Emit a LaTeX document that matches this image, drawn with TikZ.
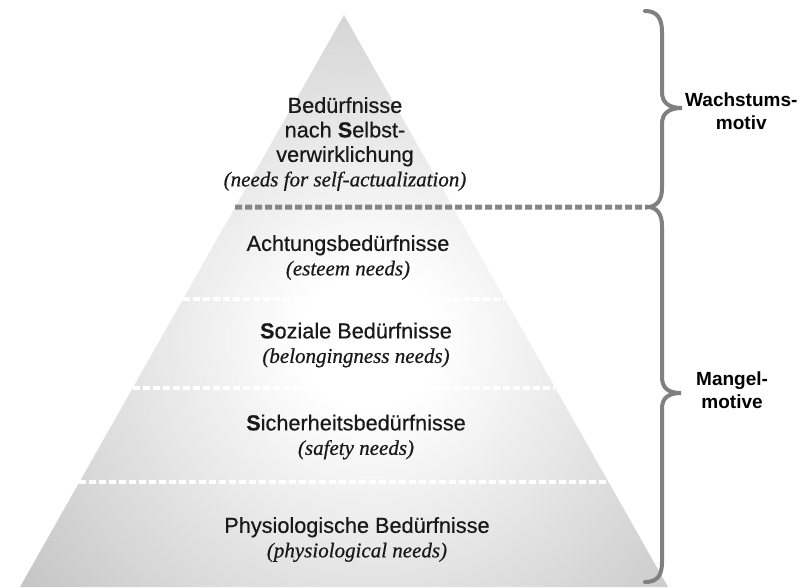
\documentclass[tikz,border=0pt]{standalone}
\usepackage{fontspec}
\setmainfont{Liberation Sans}
\newfontfamily\levelfont{Liberation Sans}[FakeBold=0.5]
\newfontfamily\engfont{Liberation Serif}[FakeBold=0.6]
\usetikzlibrary{positioning, calc}
\pgfdeclareradialshading{pyrglow}{\pgfpoint{0bp}{0bp}}{color(0bp)=(white); color(4bp)=(white); color(29bp)=(gray!53); color(50bp)=(gray!53)}
\newcommand{\eng}[1]{{\engfont\itshape\fontsize{21}{24.5}\selectfont #1}}
\tikzset{
    %Define style for the level texts
    level/.style={
           align=center,
           inner sep=0pt,
           text=black!90,
           font=\levelfont\fontsize{21.7}{24.5}\selectfont},
 %
    motive/.style={
           align=center,
           inner sep=0pt,
           font=\fontsize{19}{23}\selectfont\bfseries},
 %
    % Define separator styles
    border/.style={
           white,
           line width=4.5pt,
           dash pattern=on 7pt off 3pt},
    mainborder/.style={
           black!47,
           line width=5pt,
           dash pattern=on 7pt off 3pt},
 %
    brace/.style={
           black!50,
           line width=4pt,
           line cap=round}
}
\begin{document}
\begin{tikzpicture}[x=1pt, y=-1pt]
  \useasboundingbox (0,0) rectangle (806,587);
  \coordinate (apex) at (344,15);
  \coordinate (bl) at (20,587);
  \coordinate (br) at (668,587);
  \begin{scope}
    \clip (apex) -- (bl) -- (br) -- cycle;
    \shade[shading=pyrglow] (-50,-80) rectangle (790,760);
  \end{scope}
  % brace points
  \coordinate (wtop) at (645,11);
  \coordinate (wtip) at (682,108);
  \coordinate (junction) at (647,207);
  \coordinate (mtip) at (681,393);
  \coordinate (mbot) at (645,582);
  % separators
  \draw[mainborder] ($(apex)!0.3357!(bl)$) -- (junction);
  \draw[border] ($(apex)!0.4965!(bl)$) -- ($(apex)!0.4965!(br)$);
  \draw[border] ($(apex)!0.6521!(bl)$) -- ($(apex)!0.6521!(br)$);
  \draw[border] ($(apex)!0.8164!(bl)$) -- ($(apex)!0.8164!(br)$);
  % braces
  \draw[brace] (wtop) .. controls ++(12,0) and ++(0,-14) .. (662,32) -- (662,92)
     .. controls ++(0,10) and ++(-14,0) .. (wtip)
     .. controls ++(-14,0) and ++(0,-10) .. (662,124) -- (662,188)
     .. controls ++(0,12) and ++(10,0) .. (junction);
  \draw[brace] (junction) .. controls ++(10,0) and ++(0,-12) .. (662,226) -- (662,377)
     .. controls ++(0,10) and ++(-14,0) .. (mtip)
     .. controls ++(-14,0) and ++(0,-10) .. (662,409) -- (662,562)
     .. controls ++(0,14) and ++(12,0) .. (mbot);
  % levels
  \node[level] (self) at (345,144) {Bedürfnisse\\nach {\bfseries S}elbst-\\verwirklichung\\\eng{(needs for self-actualization)}};
  \node[level] (esteem) at (348,257.5) {Achtungsbedürfnisse\\\eng{(esteem needs)}};
  \node[level] (social) at (356,345) {{\bfseries S}oziale Bedürfnisse\\\eng{(belongingness needs)}};
  \node[level] (safety) at (356,437) {{\bfseries S}icherheitsbedürfnisse\\\eng{(safety needs)}};
  \node[level] (physio) at (357,539.5) {Physiologische Bedürfnisse\\\eng{(physiological needs)}};
  % motives
  \node[motive, right=3pt of wtip, yshift=-3pt] (growth) {Wachstums-\\motiv};
  \node[motive, right=15pt of mtip, yshift=3pt] (deficit) {Mangel-\\motive};
\end{tikzpicture}
\end{document}
